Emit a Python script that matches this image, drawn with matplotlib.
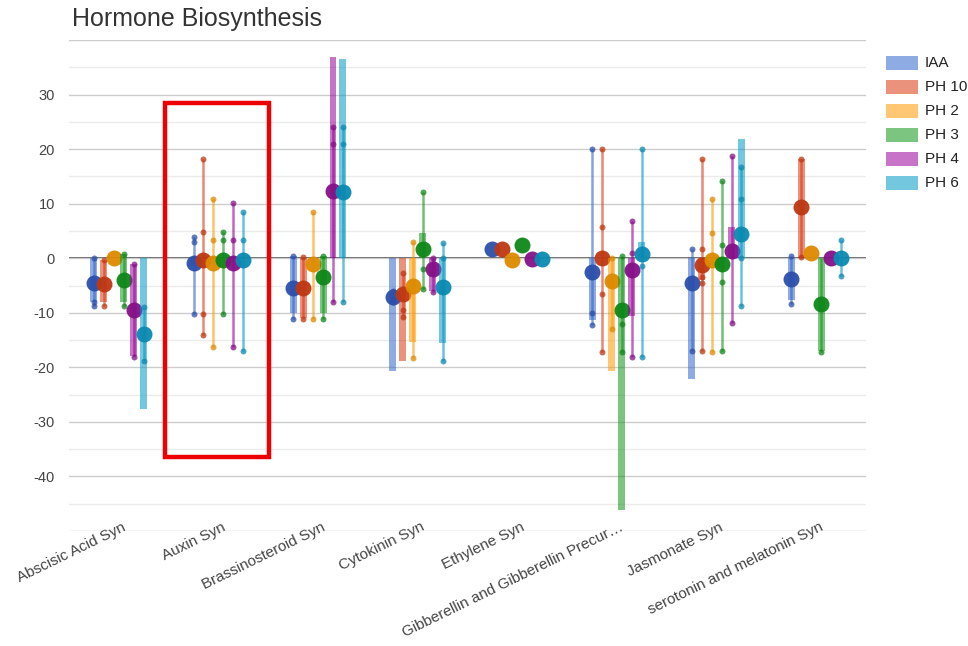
import matplotlib
matplotlib.use("Agg")
import matplotlib.pyplot as plt
import matplotlib.transforms as mtransforms
from matplotlib.patches import Rectangle
from matplotlib.ticker import FixedLocator, FuncFormatter

plt.rcParams['font.family'] = ['Liberation Sans', 'DejaVu Sans']

categories = ["Abscisic Acid Syn", "Auxin Syn", "Brassinosteroid Syn", "Cytokinin Syn",
              "Ethylene Syn", "Gibberellin and Gibberellin Precur…", "Jasmonate Syn",
              "serotonin and melatonin Syn"]
series = ["IAA", "PH 10", "PH 2", "PH 3", "PH 4", "PH 6"]
base_colors = ["#3366cc", "#dc3912", "#ff9900", "#109618", "#990099", "#0099c6"]
dark_colors = ["#2b4fab", "#bd3812", "#dd8a00", "#0e8719", "#861088", "#0a8ab2"]

# mean value (big dot) per series, per category
mean_IAA = [-4.5, -0.8, -5.4, -7.1, 1.7, -2.6, -4.5, -3.9]
mean_PH10 = [-4.8, -0.3, -5.4, -6.5, 1.6, 0.1, -1.2, 9.4]
mean_PH2 = [0.1, -0.8, -1.0, -5.1, -0.25, -4.2, -0.4, 1.0]
mean_PH3 = [-4.0, -0.4, -3.4, 1.6, 2.5, -9.4, -1.0, -8.4]
mean_PH4 = [-9.5, -0.8, 12.3, -1.9, -0.2, -2.2, 1.35, 0.1]
mean_PH6 = [-13.8, -0.4, 12.2, -5.3, -0.2, 0.7, 4.4, 0.1]

# stick intervals (low, high); None = no interval
stick_IAA = [(-8.8, 0), (-10.3, 3.8), (-11.1, 0.4), (-8.0, -6.0), None, (-12.3, 20.0), (-17.0, 1.65), (-8.3, 0.4)]
stick_PH10 = [(-8.8, -0.4), (-14.1, 18.1), (-11.1, 0.2), (-10.8, -2.8), None, (-17.2, 20.0), (-17.0, 18.1), (0, 18.1)]
stick_PH2 = [None, (-16.3, 10.8), (-11.1, 8.5), (-18.2, 3.0), None, (-12.9, 0), (-17.2, 10.8), None]
stick_PH3 = [(-8.8, 0.7), (-10.3, 4.8), (-11.1, 0.4), (-5.6, 12.1), None, (-17.2, 0.4), (-17.0, 14.1), (-17.2, 0)]
stick_PH4 = [(-18.1, -1.0), (-16.3, 10.1), (-8.0, 24.1), (-6.2, 0), None, (-18.1, 6.9), (-11.9, 18.7), None]
stick_PH6 = [(-18.9, -8.9), (-17.0, 8.5), (-8.0, 24.1), (-18.9, 2.7), None, (-18.1, 20.0), (-8.8, 16.8), (-3.2, 3.4)]

# bar intervals (low, high)
bar_IAA = [(-8.0, 0), (-1.5, 0), (-10.0, 0.4), (-20.7, 0), None, (-11.4, 0), (-22.1, 0), (-7.7, 0)]
bar_PH10 = [(-8.0, -0.4), None, (-11.0, 0), (-18.8, 0), None, None, (-4.0, 0), (0, 18.1)]
bar_PH2 = [None, None, None, (-15.4, 0), None, (-20.7, 0), None, None]
bar_PH3 = [(-8.0, 0.7), None, (-10.0, 0.4), (0, 4.6), None, (-46.1, 0), (-2.0, 0), (-17.0, 0)]
bar_PH4 = [(-18.0, -1.0), None, (0, 36.8), (-6.0, 0), None, (-10.6, 0), (0, 5.7), None]
bar_PH6 = [(-27.6, 0), None, (0, 36.5), (-15.5, 0), None, (0, 3.0), (0, 21.8), None]

# interval points (small dots)
pts_IAA = [[0, -8, -8.8], [3.8, 3.0, -10.3], [0.4, -11.1], [-6, -7.5, -8], [], [20, -10, -12.3], [1.65, -17], [0.4, -8.3]]
pts_PH10 = [[-0.4, -8.8], [18.1, 4.8, -10.2, -14.1], [0.2, -11.1], [-2.8, -9.5, -10.8], [], [20, 5.7, -6.6, -17.2], [18.1, 1.6, -3.4, -4.5, -17], [18.1, 0.3]]
pts_PH2 = [[], [10.8, 3.4, -16.3], [8.5, -11.1], [3.0, -18.2], [], [0, -12.9], [10.8, 4.6, -17.2], []]
pts_PH3 = [[0.7, -8.8], [4.8, 3.3, -10.3], [0.4, -11.1], [12.1, -1.9, -5.6], [], [0.4, -12.1, -17.2], [14.1, 2.4, -4.3, -17], [-17.2]]
pts_PH4 = [[-1.0, -18.1], [10.1, 3.4, -16.3], [24.1, 21.0, -8.0], [0, -6.2], [], [6.9, 1, -18.1], [18.7, -11.9], []]
pts_PH6 = [[-8.9, -18.9], [8.5, 3.4, -17], [24.1, 21.0, -8.0], [2.7, 0, -18.9], [], [20, -1.4, -18.1], [16.8, 10.9, 0, -8.8], [3.4, -3.2]]

means = [mean_IAA, mean_PH10, mean_PH2, mean_PH3, mean_PH4, mean_PH6]
sticks = [stick_IAA, stick_PH10, stick_PH2, stick_PH3, stick_PH4, stick_PH6]
bars = [bar_IAA, bar_PH10, bar_PH2, bar_PH3, bar_PH4, bar_PH6]
points = [pts_IAA, pts_PH10, pts_PH2, pts_PH3, pts_PH4, pts_PH6]

yticks_major = [-50, -40, -30, -20, -10, 0, 10, 20, 30, 40]
yticks_minor = [-45, -35, -25, -15, -5, 5, 15, 25, 35]

W, H = 968, 646
fig = plt.figure(figsize=(W / 100, H / 100), dpi=100)
ax = fig.add_axes([69 / W, 1 - 531 / H, (866 - 69) / W, (531 - 40) / H])

ax.set_xlim(-0.5, len(categories) - 0.5)
ax.set_ylim(-50, 40)

for s in ax.spines.values():
    s.set_visible(False)

ax.yaxis.set_major_locator(FixedLocator(yticks_major))
ax.yaxis.set_minor_locator(FixedLocator(yticks_minor))
ax.yaxis.set_major_formatter(FuncFormatter(lambda v, p: "" if v in (-50, 40) else f"{int(v)}"))
ax.grid(axis='y', which='major', color='#cccccc', lw=1.0, zorder=0)
ax.grid(axis='y', which='minor', color='#ebebeb', lw=1.0, zorder=0)
ax.tick_params(axis='y', which='both', length=0, pad=10, labelsize=10.5, labelcolor='#444444')
ax.axhline(0, color='#333333', lw=1.1, zorder=1)

ax.set_xticks(range(len(categories)))
ax.set_xticklabels(categories, rotation=26, ha='right', rotation_mode='anchor',
                   fontsize=11, color='#444444')
ax.tick_params(axis='x', length=0, pad=0)
shift = mtransforms.ScaledTranslation(3 / 100, 11 / 100, fig.dpi_scale_trans)
for lab in ax.get_xticklabels():
    lab.set_transform(lab.get_transform() + shift)

offset = 0.1
bar_w = 0.07
for si in range(len(series)):
    z = 2 + si * 0.1
    for ci in range(len(categories)):
        x = ci + (si - 2.5) * offset
        b = bars[si][ci]
        if b is not None:
            ax.bar(x, b[1] - b[0], bottom=b[0], width=bar_w, color=base_colors[si],
                   alpha=0.55, lw=0, zorder=z)
        st = sticks[si][ci]
        if st is not None:
            ax.plot([x, x], [st[0], st[1]], color=base_colors[si], alpha=0.6, lw=1.8,
                    solid_capstyle='butt', zorder=z + 0.01)
        if points[si][ci]:
            ax.plot([x] * len(points[si][ci]), points[si][ci], 'o', ms=4.3,
                    color=dark_colors[si], alpha=0.75, mec='none', zorder=z + 0.02)
        ax.plot([x], [means[si][ci]], 'o', ms=11.5, color=dark_colors[si], alpha=0.95,
                mec='none', zorder=z + 0.03)

# red highlight box around Auxin Syn
fig.patches.append(Rectangle((164.5 / W, 1 - 457 / H), (269 - 164.5) / W, (457 - 103) / H,
                             transform=fig.transFigure, facecolor='none',
                             edgecolor='#ee0000', lw=3.2, zorder=10))

fig.text(72 / W, 1 - 19 / H, "Hormone Biosynthesis", fontsize=18, color='#333333',
         ha='left', va='center')

leg_rows = [63, 87, 111, 135, 159, 183]
for si, name in enumerate(series):
    yc = leg_rows[si]
    fig.patches.append(Rectangle((886 / W, 1 - (yc + 7) / H), 32 / W, 14 / H,
                                 transform=fig.transFigure, facecolor=base_colors[si],
                                 alpha=0.55, edgecolor='none'))
    fig.text(925 / W, 1 - yc / H, name, fontsize=11, color='#222222', ha='left', va='center')

fig.savefig("out.png", dpi=100)
